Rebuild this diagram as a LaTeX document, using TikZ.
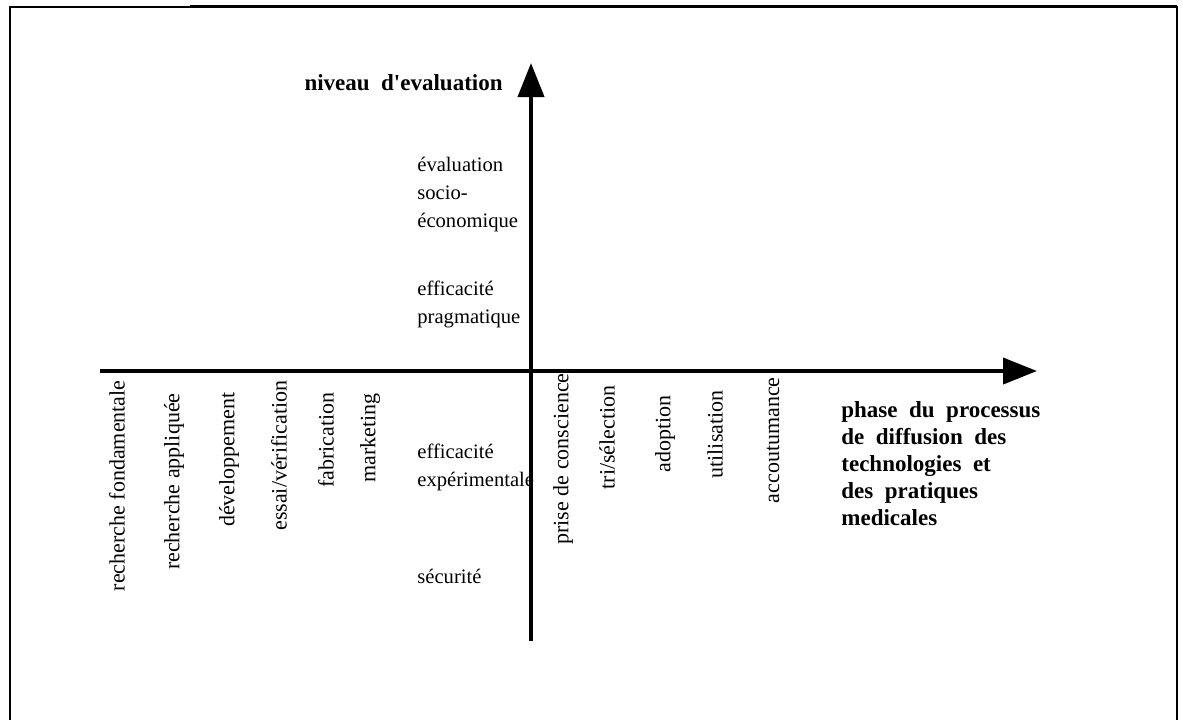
\documentclass[tikz,border=0pt]{standalone}
\usepackage{fontspec}
\setmainfont{Liberation Serif}
\newfontfamily\boldlab[WordSpace=2]{Liberation Serif}
\usetikzlibrary{arrows.meta}
\tikzset{
  lvl/.style={anchor=base west, inner sep=0pt, align=left, font=\fontsize{10.3}{14}\selectfont},
  phaselab/.style={rotate=90, anchor=east, inner sep=0pt, font=\fontsize{11}{13}\selectfont},
  axislab/.style={inner sep=0pt, align=left, font=\boldlab\bfseries\fontsize{11.5}{13.5}\selectfont},
  axisline/.style={line width=2pt, -{Triangle[length=17pt,width=13pt]}},
}
\begin{document}
\begin{tikzpicture}[x=0.5pt,y=-0.5pt]
\useasboundingbox (0,0) rectangle (1183,720);
% frame
\draw[line width=1pt] (10,720) -- (10,7) -- (190,7);
\draw[line width=1.5pt] (190,6) -- (1177,6);
\draw[line width=1pt] (1177,6) -- (1177,720);
% axes
\coordinate (xstart) at (100,371);
\coordinate (xend) at (1037,371);
\coordinate (ystart) at (531,641);
\coordinate (yend) at (531,63);
\draw[axisline] (xstart) -- (xend);
\draw[axisline] (ystart) -- (yend);
% axis labels (base anchor = last line's baseline)
\node[axislab, anchor=base east] (ylab) at (503,90) {niveau d'evaluation};
\node[axislab, anchor=base west] (xlab) at (841,525) {phase du processus\\de diffusion des\\technologies et\\des pratiques\\medicales};
% level labels
\node[lvl] (l1) at (417,227) {évaluation\\socio-\\économique};
\node[lvl] (l2) at (417,323) {efficacité\\pragmatique};
\node[lvl] (l3) at (417,486) {efficacité\\expérimentale};
\node[lvl] (l4) at (417,583) {sécurité};
% phase labels
\node[phaselab] (p1) at (117,380) {recherche fondamentale};
\node[phaselab] (p2) at (174,393) {recherche appliquée};
\node[phaselab] (p3) at (229,392) {développement};
\node[phaselab] (p4) at (279,380) {essai/vérification};
\node[phaselab] (p5) at (326,392) {fabrication};
\node[phaselab] (p6) at (370,393) {marketing};
\node[phaselab] (p7) at (563,373) {prise de conscience};
\node[phaselab] (p8) at (607,385) {tri/sélection};
\node[phaselab] (p9) at (665,395) {adoption};
\node[phaselab] (p10) at (715,390) {utilisation};
\node[phaselab] (p11) at (773,377) {accoutumance};
\end{tikzpicture}
\end{document}
